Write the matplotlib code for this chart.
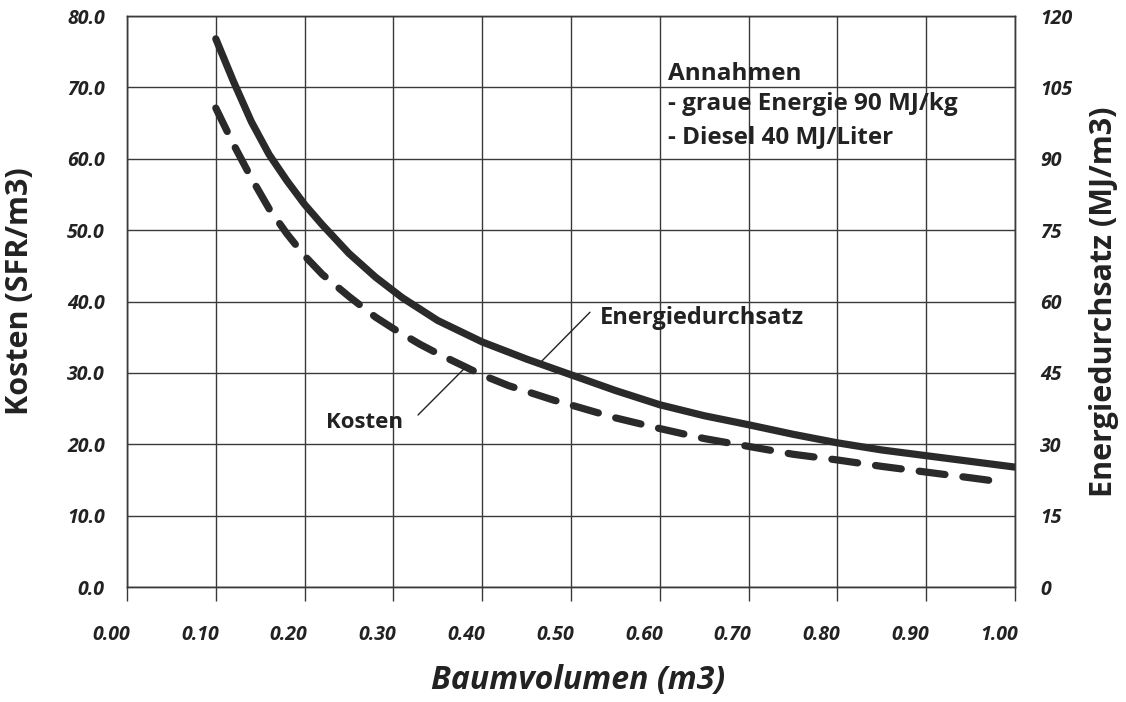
import matplotlib as mpl
mpl.use('Agg')
import matplotlib.pyplot as plt
import matplotlib.transforms as mtransforms

plt.rcParams['font.family'] = ['Open Sans', 'DejaVu Sans']

# Baumvolumen (m3) und Energiedurchsatz (MJ/m3), rechte Achse
volumen = [0.10, 0.12, 0.14, 0.16, 0.18, 0.20, 0.22, 0.25, 0.28, 0.31, 0.35, 0.40,
           0.45, 0.50, 0.55, 0.60, 0.65, 0.70, 0.75, 0.80, 0.85, 0.90, 0.95, 1.00]
energie = [115.2, 106.2, 97.8, 90.9, 85.4, 80.4, 76.1, 70.1, 65.1, 60.8, 56.0, 51.5,
           47.9, 44.6, 41.3, 38.3, 36.0, 34.1, 32.1, 30.3, 28.8, 27.6, 26.4, 25.2]
# Kosten (SFR/m3), linke Achse
kosten_x = [0.10, 0.12, 0.14, 0.16, 0.18, 0.20, 0.22, 0.25, 0.28, 0.30, 0.33, 0.35, 0.38,
            0.40, 0.43, 0.45, 0.48, 0.50, 0.55, 0.60, 0.65, 0.70, 0.75, 0.80, 0.85, 0.90,
            0.95, 0.98]
kosten = [67.1, 62.0, 57.3, 53.0, 49.5, 46.4, 43.8, 40.7, 37.8, 36.2, 34.0, 32.7, 30.9,
          29.7, 28.2, 27.4, 26.2, 25.5, 23.7, 22.2, 20.8, 19.7, 18.6, 17.8, 16.9, 16.1,
          15.3, 14.8]

x_ticks = [0.0, 0.1, 0.2, 0.3, 0.4, 0.5, 0.6, 0.7, 0.8, 0.9, 1.0]
left_ticks = [0, 10, 20, 30, 40, 50, 60, 70, 80]
right_ticks = [0, 15, 30, 45, 60, 75, 90, 105, 120]

fig = plt.figure(figsize=(11.26, 7.02), dpi=100)
ax = fig.add_axes([0.1128, 0.1638, 0.7886, 0.8134])
ax2 = ax.twinx()

grid_col = '#3a3a3a'
txt_col = '#222222'
ax.set_xlim(0, 1.0)
ax.set_ylim(0, 80)
ax2.set_ylim(0, 120)
ax.set_xticks(x_ticks)
ax.set_yticks(left_ticks)
ax2.set_yticks(right_ticks)
ax.grid(True, color=grid_col, linewidth=1.0)
for a in (ax, ax2):
    for s in a.spines.values():
        s.set_color(grid_col)
        s.set_linewidth(1.0)

tick_font = dict(fontsize=14, fontweight='bold', style='italic', color=txt_col)
ax.set_xticklabels(['%.2f' % v for v in x_ticks], **tick_font)
ax.set_yticklabels(['%.1f' % v for v in left_ticks], **tick_font)
ax2.set_yticklabels([str(v) for v in right_ticks], **tick_font)
ax.tick_params(axis='x', direction='out', length=10, width=1, color=grid_col, pad=17)
ax.tick_params(axis='y', length=0, pad=16)
ax2.tick_params(axis='y', length=0, pad=18)

# x-Beschriftungen stehen im Original etwas links vom Teilstrich
shift = mtransforms.ScaledTranslation(-16 / 100, 0, fig.dpi_scale_trans)
for lab in ax.get_xticklabels():
    lab.set_transform(lab.get_transform() + shift)

ax.set_xlabel('Baumvolumen (m3)', fontsize=23, fontweight='bold', style='italic', color=txt_col)
ax.xaxis.set_label_coords(0.508, -0.135)
ax.set_ylabel('Kosten (SFR/m3)', fontsize=22, fontweight='bold', color=txt_col)
ax.yaxis.set_label_coords(-0.104, 0.518)
ax2.set_ylabel('Energiedurchsatz (MJ/m3)', fontsize=22, fontweight='bold', color=txt_col, labelpad=12)

ax2.plot(volumen, energie, color='#2a2a2a', linewidth=5.2, solid_capstyle='round',
         solid_joinstyle='round', zorder=3)
ax.plot(kosten_x, kosten, color='#2a2a2a', linewidth=5.2, linestyle=(0, (3.6, 2.5)),
        dash_capstyle='round', dash_joinstyle='round', zorder=3)

# Hinweislinien
ax.annotate('', xy=(0.4651, 31.4), xytext=(0.5214, 38.5),
            arrowprops=dict(arrowstyle='-', color=txt_col, lw=1.0, shrinkA=0, shrinkB=0))
ax.annotate('', xy=(0.3806, 30.7), xytext=(0.3277, 24.1),
            arrowprops=dict(arrowstyle='-', color=txt_col, lw=1.0, shrinkA=0, shrinkB=0))
ax.text(0.5327, 37.7, 'Energiedurchsatz', fontsize=17, fontweight='bold', color=txt_col,
        ha='left', va='center')
ax.text(0.311, 23.0, 'Kosten', fontsize=16, fontweight='bold', color=txt_col,
        ha='right', va='center')

ax.text(0.609, 71.9, 'Annahmen', fontsize=17.5, fontweight='bold', color=txt_col, va='center')
ax.text(0.609, 67.7, '- graue Energie 90 MJ/kg', fontsize=17.5, fontweight='bold', color=txt_col, va='center')
ax.text(0.609, 63.0, '- Diesel 40 MJ/Liter', fontsize=17.5, fontweight='bold', color=txt_col, va='center')

fig.savefig('out.png', dpi=100)
